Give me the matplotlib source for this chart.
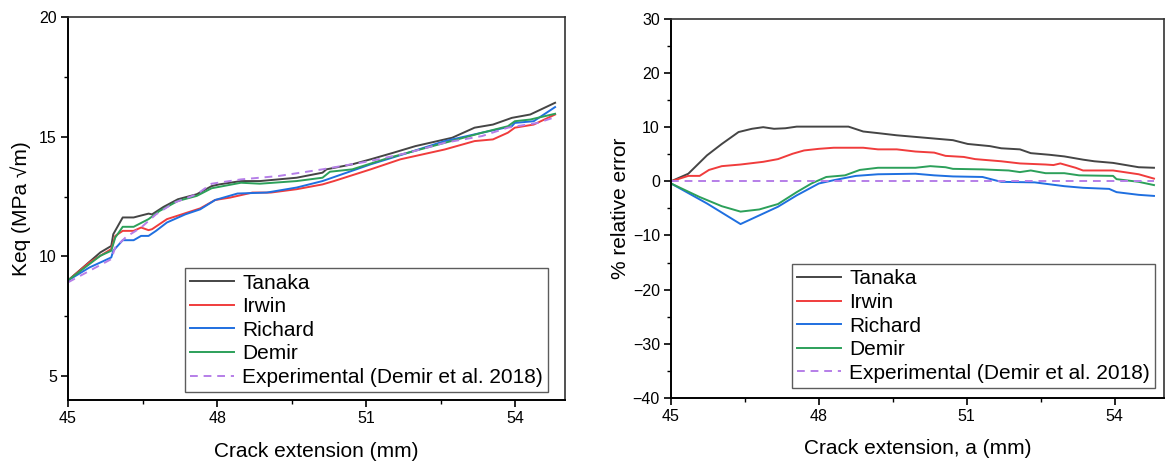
import matplotlib
matplotlib.use("Agg")
import matplotlib.pyplot as plt
from matplotlib.ticker import MultipleLocator

plt.rcParams['font.family'] = ['Liberation Sans', 'DejaVu Sans']

# ---- left panel: Keq vs crack extension ----
tanaka_x = [45.0, 45.65, 45.87, 45.91, 46.10, 46.32, 46.43, 46.62, 46.69, 46.92, 47.21, 47.59, 47.89,
            48.04, 48.48, 48.86, 49.6, 50.12, 50.2, 50.72, 51.09, 51.54, 51.99, 52.73, 53.18, 53.55,
            53.93, 54.3, 54.8]
tanaka_k = [9.0, 10.17, 10.44, 10.93, 11.63, 11.63, 11.69, 11.79, 11.76, 12.07, 12.39, 12.6, 12.94,
            13.01, 13.15, 13.15, 13.29, 13.5, 13.64, 13.85, 14.06, 14.33, 14.61, 14.96, 15.38, 15.51,
            15.79, 15.93, 16.42]

irwin_x = [45.0, 45.43, 45.87, 45.95, 46.10, 46.32, 46.47, 46.62, 46.69, 46.99, 47.29, 47.66, 47.96,
           48.26, 48.71, 49.08, 49.6, 50.12, 50.35, 51.09, 51.69, 52.58, 53.18, 53.55, 53.85, 53.99,
           54.37, 54.8]
irwin_k = [9.0, 9.75, 10.31, 10.86, 11.07, 11.07, 11.21, 11.1, 11.14, 11.56, 11.76, 12.01, 12.36,
           12.46, 12.67, 12.67, 12.81, 13.01, 13.15, 13.64, 14.06, 14.47, 14.82, 14.89, 15.17, 15.38,
           15.51, 15.93]

richard_x = [45.0, 45.43, 45.87, 45.91, 46.10, 46.32, 46.47, 46.62, 46.77, 46.99, 47.36, 47.66, 47.96,
             48.41, 49.0, 49.6, 50.12, 51.09, 51.84, 52.58, 53.33, 53.93, 53.99, 54.37, 54.8]
richard_k = [9.0, 9.54, 9.96, 10.24, 10.68, 10.68, 10.86, 10.86, 11.07, 11.42, 11.76, 11.97, 12.36,
             12.63, 12.67, 12.88, 13.15, 13.85, 14.33, 14.82, 15.17, 15.44, 15.58, 15.65, 16.24]

demir_x = [45.0, 45.65, 45.87, 45.95, 46.10, 46.32, 46.62, 46.84, 47.21, 47.59, 47.89, 48.48, 48.86,
           49.6, 50.12, 50.27, 50.72, 51.47, 52.21, 52.96, 53.33, 53.85, 53.99, 54.3, 54.8]
demir_k = [9.0, 10.03, 10.24, 10.79, 11.24, 11.24, 11.56, 11.9, 12.32, 12.53, 12.85, 13.08, 13.04,
           13.15, 13.29, 13.54, 13.64, 14.13, 14.54, 14.96, 15.17, 15.44, 15.65, 15.72, 15.96]

exp_x = [45.0, 45.87, 45.95, 46.17, 46.47, 46.77, 47.14, 47.59, 47.89, 48.48, 49.23, 50.12, 51.09,
         51.84, 52.58, 53.33, 53.85, 54.45, 54.8]
exp_k = [8.92, 9.89, 10.38, 10.82, 11.21, 11.76, 12.25, 12.6, 13.04, 13.22, 13.36, 13.64, 13.99,
         14.33, 14.75, 15.03, 15.38, 15.58, 15.82]

# ---- right panel: % relative error ----
tanaka_ex = [45.0, 45.35, 45.73, 46.03, 46.37, 46.64, 46.87, 47.09, 47.32, 47.55, 48.6, 48.9, 49.2,
             49.58, 49.96, 50.34, 50.72, 51.02, 51.47, 51.7, 52.08, 52.3, 52.68, 52.98, 53.36, 53.59,
             53.97, 54.49, 54.8]
tanaka_err = [0.0, 1.4, 4.8, 6.9, 9.1, 9.7, 10.0, 9.7, 9.8, 10.1, 10.1, 9.2, 8.9, 8.5, 8.2, 7.9, 7.6,
              6.9, 6.5, 6.1, 5.9, 5.2, 4.9, 4.6, 4.0, 3.7, 3.4, 2.6, 2.5]

irwin_ex = [45.0, 45.35, 45.58, 45.77, 46.03, 46.41, 46.87, 47.17, 47.47, 47.7, 48.0, 48.3, 48.9,
            49.2, 49.58, 49.96, 50.34, 50.57, 50.94, 51.17, 51.7, 52.08, 52.6, 52.76, 52.9, 53.21,
            53.36, 53.97, 54.49, 54.8]
irwin_err = [0.0, 1.0, 1.0, 2.1, 2.8, 3.1, 3.6, 4.1, 5.1, 5.7, 6.0, 6.2, 6.2, 5.9, 5.9, 5.5, 5.3, 4.7,
             4.5, 4.1, 3.7, 3.3, 3.1, 3.0, 3.3, 2.5, 2.0, 2.0, 1.3, 0.5]

richard_ex = [45.0, 45.73, 46.41, 46.79, 47.17, 47.55, 48.0, 48.3, 48.75, 49.2, 49.96, 50.34, 50.72,
              51.32, 51.7, 52.38, 52.98, 53.36, 53.89, 54.04, 54.49, 54.8]
richard_err = [-0.4, -4.1, -7.9, -6.3, -4.7, -2.6, -0.4, 0.2, 1.0, 1.3, 1.4, 1.1, 0.9, 0.8, -0.1,
               -0.2, -0.9, -1.2, -1.4, -2.0, -2.5, -2.7]

demir_ex = [45.0, 45.58, 46.03, 46.41, 46.79, 47.17, 47.55, 47.85, 48.15, 48.53, 48.83, 49.2, 49.96,
            50.26, 50.57, 50.72, 51.32, 51.85, 52.08, 52.3, 52.6, 52.98, 53.28, 53.97, 54.04, 54.49,
            54.8]
demir_err = [-0.4, -2.9, -4.6, -5.6, -5.2, -4.2, -2.0, -0.4, 0.8, 1.1, 2.1, 2.5, 2.5, 2.8, 2.6, 2.3,
             2.2, 2.0, 1.7, 2.0, 1.5, 1.5, 1.1, 1.0, 0.4, -0.1, -0.7]

exp_ex = [45.0, 54.8]
exp_err = [0.0, 0.0]

labels = ['Tanaka', 'Irwin', 'Richard', 'Demir', 'Experimental (Demir et al. 2018)']
colors = ['#454545', '#f03c3c', '#1f6fe0', '#2ca05a', '#b57ee8']


def style_axes(ax):
    for side in ['left', 'bottom']:
        ax.spines[side].set_linewidth(1.4)
        ax.spines[side].set_color('black')
    for side in ['top', 'right']:
        ax.spines[side].set_linewidth(1.2)
        ax.spines[side].set_color('#333333')
    ax.tick_params(which='major', direction='out', length=5, width=1.2, labelsize=11.5, pad=3)
    ax.tick_params(which='minor', direction='out', length=3, width=1.0)
    ax.tick_params(top=False, right=False, which='both')
    ax.set_xlim(45, 55)
    ax.xaxis.set_major_locator(MultipleLocator(3))
    ax.xaxis.set_minor_locator(MultipleLocator(1.5))


def add_legend(ax, anchor):
    leg = ax.legend(loc='lower right', bbox_to_anchor=anchor, fontsize=15, frameon=True,
                    fancybox=False, edgecolor='#333333', handlelength=2.1, handletextpad=0.4,
                    labelspacing=0.22, borderpad=0.25, borderaxespad=0)
    leg.get_frame().set_linewidth(1.0)


fig = plt.figure(figsize=(11.65, 4.61), dpi=100)
ax1 = fig.add_axes([0.0584, 0.132, 0.4266, 0.831])
ax2 = fig.add_axes([0.576, 0.137, 0.423, 0.822])

lw = 1.4
ax1.plot(tanaka_x, tanaka_k, color=colors[0], lw=lw, label=labels[0])
ax1.plot(irwin_x, irwin_k, color=colors[1], lw=lw, label=labels[1])
ax1.plot(richard_x, richard_k, color=colors[2], lw=lw, label=labels[2])
ax1.plot(demir_x, demir_k, color=colors[3], lw=lw, label=labels[3])
ax1.plot(exp_x, exp_k, color=colors[4], lw=lw, ls=(0, (4, 3)), label=labels[4])
style_axes(ax1)
ax1.set_ylim(4, 20)
ax1.set_yticks([5, 10, 15, 20])
ax1.yaxis.set_minor_locator(MultipleLocator(2.5))
ax1.set_xlabel('Crack extension (mm)', fontsize=15, labelpad=11)
ax1.set_ylabel('Keq (MPa \u221am)', fontsize=15, labelpad=6)
add_legend(ax1, (0.966, 0.021))

ax2.plot(tanaka_ex, tanaka_err, color=colors[0], lw=lw, label=labels[0])
ax2.plot(irwin_ex, irwin_err, color=colors[1], lw=lw, label=labels[1])
ax2.plot(richard_ex, richard_err, color=colors[2], lw=lw, label=labels[2])
ax2.plot(demir_ex, demir_err, color=colors[3], lw=lw, label=labels[3])
ax2.plot(exp_ex, exp_err, color=colors[4], lw=lw, ls=(0, (4, 3)), label=labels[4])
style_axes(ax2)
ax2.set_ylim(-40, 30)
ax2.yaxis.set_major_locator(MultipleLocator(10))
ax2.yaxis.set_minor_locator(MultipleLocator(5))
ax2.set_xlabel('Crack extension, a (mm)', fontsize=15, labelpad=11)
ax2.set_ylabel('% relative error', fontsize=15, labelpad=2)
add_legend(ax2, (0.982, 0.026))

fig.savefig('out.png', dpi=100)
